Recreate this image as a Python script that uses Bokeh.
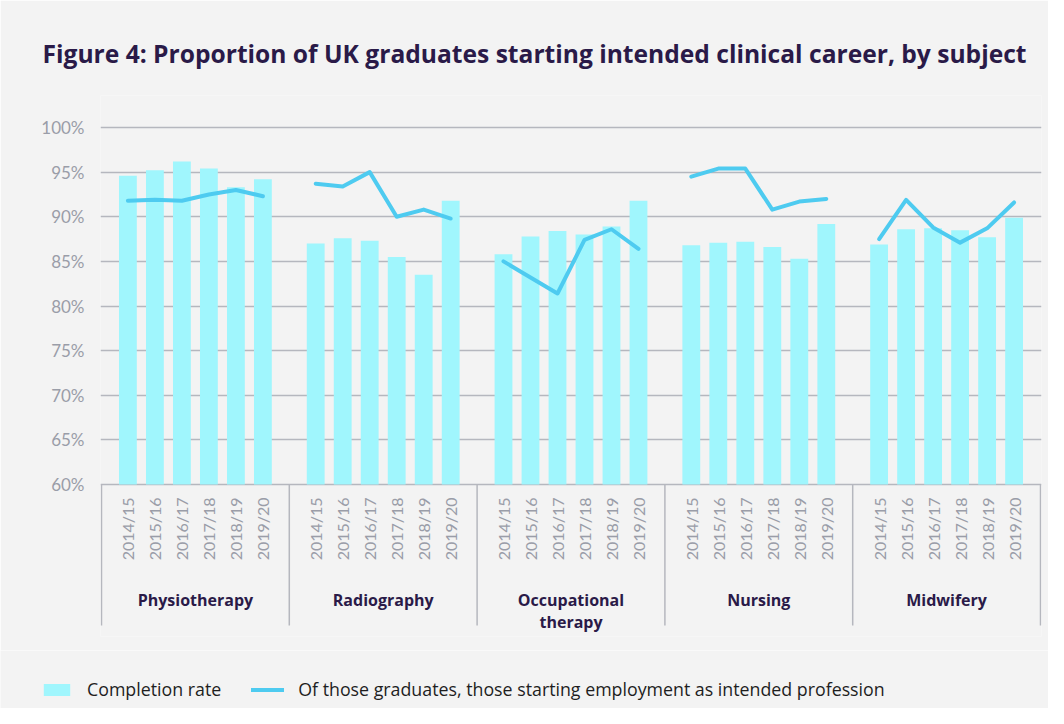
from bokeh.plotting import figure
from bokeh.layouts import column
from bokeh.models import (FactorRange, Range1d, FixedTicker, PrintfTickFormatter,
                          ColumnDataSource, Legend, LegendItem)
from bokeh.core.properties import value
from bokeh.embed import file_html
from bokeh.resources import INLINE

# ---------------- data ----------------
groups = ["Physiotherapy", "Radiography", "Occupational therapy", "Nursing", "Midwifery"]
group_labels = ["Physiotherapy", "Radiography", "Occupational\ntherapy", "Nursing", "Midwifery"]
years = ["2014/15", "2015/16", "2016/17", "2017/18", "2018/19", "2019/20"]

completion_physiotherapy = [94.6, 95.2, 96.2, 95.4, 93.3, 94.2]
completion_radiography = [87.0, 87.6, 87.3, 85.5, 83.5, 91.8]
completion_occupational = [85.8, 87.8, 88.4, 88.0, 88.9, 91.8]
completion_nursing = [86.8, 87.1, 87.2, 86.6, 85.3, 89.2]
completion_midwifery = [86.9, 88.6, 88.7, 88.5, 87.7, 89.9]

employment_physiotherapy = [91.8, 91.9, 91.8, 92.5, 93.0, 92.3]
employment_radiography = [93.7, 93.4, 95.0, 90.0, 90.8, 89.8]
employment_occupational = [85.0, 83.2, 81.4, 87.4, 88.6, 86.4]
employment_nursing = [94.5, 95.4, 95.4, 90.8, 91.7, 92.0]
employment_midwifery = [87.5, 91.9, 88.8, 87.1, 88.7, 91.6]

y_ticks = [60, 65, 70, 75, 80, 85, 90, 95, 100]

completion = [completion_physiotherapy, completion_radiography, completion_occupational,
              completion_nursing, completion_midwifery]
employment = [employment_physiotherapy, employment_radiography, employment_occupational,
              employment_nursing, employment_midwifery]

# ---------------- styles ----------------
BG = "#f3f3f3"
BAR = "#a0f6fd"
LINE = "#4ecbf0"
GRID = "#b5b7be"
TICK_TXT = "#9a9da8"
DARK = "#2a1a48"

GP = 0.956
factors = [(g, y) for g in groups for y in years]
x_range = FactorRange(*factors, group_padding=GP, range_padding=0.515,
                      range_padding_units="absolute")
y_range = Range1d(42.97, 103.585)

p = figure(width=1048, height=650, x_range=x_range, y_range=y_range,
           output_backend="svg", toolbar_location=None, x_axis_location=None,
           min_border_left=100, min_border_right=7, min_border_top=95,
           min_border_bottom=14)
p.background_fill_color = BG
p.border_fill_color = BG
p.outline_line_color = None

# title
p.title.text = "Figure 4: Proportion of UK graduates starting intended clinical career, by subject"
p.title.text_font = "Open Sans"
p.title.text_font_style = "bold"
p.title.text_font_size = "24.6px"
p.title.text_color = DARK
p.title.align = "left"
p.title.offset = -58
p.title.standoff = 51

# y axis
yax = p.yaxis[0]
yax.ticker = FixedTicker(ticks=y_ticks)
yax.formatter = PrintfTickFormatter(format="%d%%")
yax.axis_line_color = None
yax.major_tick_line_color = None
yax.minor_tick_line_color = None
yax.major_label_standoff = 10
yax.major_label_text_font = "Lato"
yax.major_label_text_font_size = "17px"
yax.major_label_text_color = TICK_TXT

p.xgrid.grid_line_color = None
p.ygrid.ticker = FixedTicker(ticks=y_ticks)
p.ygrid.grid_line_color = GRID
p.ygrid.grid_line_width = 1.5

# bars
bar_src = ColumnDataSource(dict(x=factors, top=[v for row in completion for v in row]))
bars = p.vbar(x="x", top="top", bottom=60, width=0.66, source=bar_src,
              fill_color=BAR, line_color=None)

# lines (one per subject)
for g, vals in zip(groups, employment):
    p.line(x=[(g, y) for y in years], y=vals, line_color=LINE, line_width=4,
           line_cap="round", line_join="round")

# group separators
off = 0.5 + GP / 2
sep_x = [(g, years[0], -off) for g in groups] + [(groups[-1], years[-1], off)]
p.segment(x0=sep_x, x1=sep_x, y0=[60] * len(sep_x), y1=[44.2] * len(sep_x),
          line_color=GRID, line_width=1.5)

# year labels
p.text(x=factors, y=[58.55] * len(factors), text=[y for g in groups for y in years],
       angle=1.5708, text_align="right", text_baseline="middle",
       text_font=value("Lato"), text_font_size="16px", text_color=TICK_TXT)

# group labels
p.text(x=[(g, years[2], 0.5) for g in groups], y=[48.3] * len(groups), text=group_labels,
       text_align="center", text_baseline="top", text_font=value("Open Sans"),
       text_font_style="bold", text_font_size="16px", text_color=DARK,
       text_line_height=1.0)

# ---------------- legend strip ----------------
lg = figure(width=1048, height=58, x_range=Range1d(0, 1), y_range=Range1d(0, 1),
            output_backend="svg", toolbar_location=None, x_axis_location=None,
            y_axis_location=None, min_border=0, min_border_left=0, min_border_right=0,
            min_border_top=0, min_border_bottom=0)
lg.background_fill_color = BG
lg.border_fill_color = BG
lg.outline_line_color = None
lg.grid.visible = False
# proxy glyphs for the legend keys (kept outside the visible range)
lg_bar = lg.vbar(x=[5], top=[5], bottom=4, width=0.5, fill_color=BAR, line_color=None)
lg_line = lg.line(x=[5, 6], y=[5, 5], line_color=LINE, line_width=4, line_cap="round")

legend = Legend(items=[LegendItem(label="Completion rate", renderers=[lg_bar]),
                       LegendItem(label="Of those graduates, those starting employment as intended profession",
                                  renderers=[lg_line])],
                orientation="horizontal", location=(40, 7),
                background_fill_alpha=0, border_line_color=None, padding=0, margin=0,
                spacing=30, label_standoff=14, glyph_width=33, glyph_height=15,
                label_text_font="Open Sans", label_text_font_size="17.8px",
                label_text_color="#1e1e1e")
lg.add_layout(legend)

layout = column(p, column(lg, spacing=0), spacing=0)
open("out.html", "w").write(file_html(layout, INLINE))
